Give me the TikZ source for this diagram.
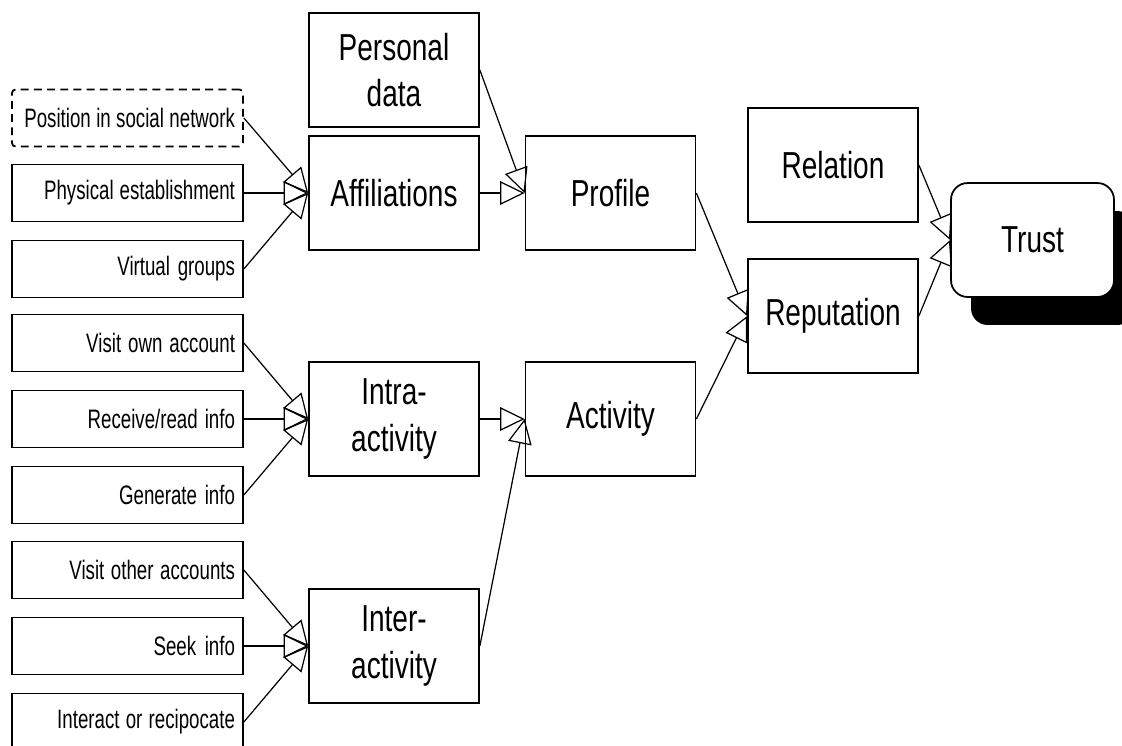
\documentclass[tikz,border=0pt]{standalone}
\usepackage{fontspec}
\setmainfont[FakeStretch=0.745]{Liberation Sans}
\newfontfamily\leaffont[FakeStretch=0.70]{Liberation Sans}
\usetikzlibrary{arrows.meta,shadows}
\hyphenpenalty=10000

\begin{document}
\begin{tikzpicture}[x=0.02cm, y=-0.02cm,
    leaf/.style={rectangle, draw, line width=1pt, minimum height=1.14cm, text width=4.3cm, inner xsep=0.16cm, align=right,
      font=\leaffont\fontsize{15.2}{18}\selectfont, execute at begin node={\spaceskip=0.2em plus 0.05em\relax}},
    block/.style={rectangle, draw, line width=1pt, minimum width=3.4cm, minimum height=2.27cm, align=center, font=\fontsize{21.4}{26.6}\selectfont},
    conn/.style={-{Triangle[open, length=14pt, width=13.5pt]}, line width=0.7pt}]
      \useasboundingbox (0,0) rectangle (1122,745);
      \node[leaf, dashed, dash pattern=on 4.5pt off 3pt, rounded corners=2pt] (pos) at (127.5,118) {Position in social network};
      \node[leaf] (phys) at (127.5,193) {Physical establishment};
      \node[leaf] (virt) at (127.5,269) {Virtual groups};
      \node[leaf] (own) at (127.5,343) {Visit own account};
      \node[leaf] (recv) at (127.5,419) {Receive/read info};
      \node[leaf] (gen) at (127.5,495) {Generate info};
      \node[leaf] (other) at (127.5,570) {Visit other accounts};
      \node[leaf] (seek) at (127.5,646) {Seek info};
      \node[leaf] (recip) at (127.5,722) {Interact or recipocate};

      \node[block] (pers) at (394,70) {Personal\\data};
      \node[block] (aff) at (394,193) {Affiliations};
      \node[block] (intra) at (394,419) {Intra-\\activity};
      \node[block] (inter) at (394,646) {Inter-\\activity};
      \node[block] (prof) at (610.5,193) {Profile};
      \node[block] (act) at (610.5,419) {Activity};
      \node[block] (rel) at (833,165) {Relation};
      \node[block] (rep) at (833,316) {Reputation};
      \node[block, minimum width=3.26cm, minimum height=2.28cm, rounded corners=9.5pt, fill=white,
        drop shadow={shadow xshift=0.4cm, shadow yshift=-0.56cm, fill=black, opacity=1}] (trust) at (1032.5,240) {Trust};

      \foreach \source/\dest in {
        pos/aff, phys/aff, virt/aff, own/intra, recv/intra, gen/intra,
        other/inter, seek/inter, recip/inter, pers/prof, aff/prof,
        intra/act, inter/act, prof/rep, act/rep, rel/trust, rep/trust}
        \draw[conn] (\source.east) -- (\dest.west);
    \end{tikzpicture}
\end{document}
